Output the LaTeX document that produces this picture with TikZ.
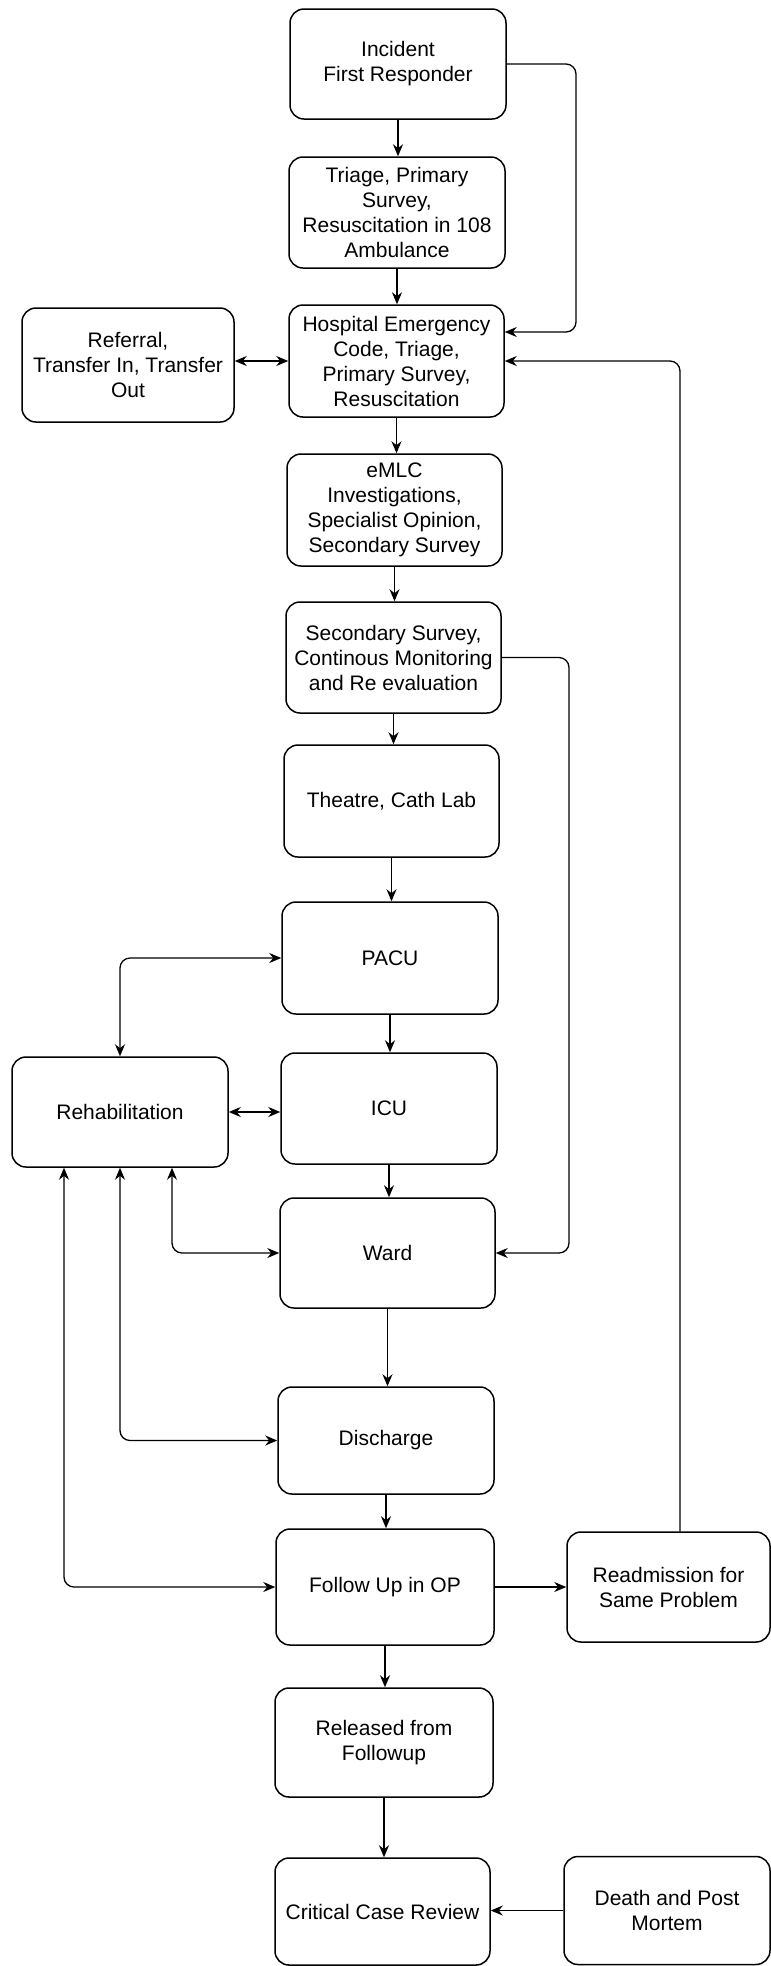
\documentclass[tikz,border=0pt]{standalone}
\usepackage{fontspec}
\setmainfont{Liberation Sans}
\usetikzlibrary{arrows.meta}
\tikzset{
  box/.style={draw, line width=1.5pt, rounded corners=14pt, align=center,
    inner sep=0pt, font=\fontsize{21pt}{25pt}\selectfont},
  sz/.style 2 args={minimum width=#1pt, minimum height=#2pt},
  tip/.tip={Stealth[length=12pt,width=10pt]},
  arr/.style={-tip, line width=1.3pt, rounded corners=10pt},
  darr/.style={tip-tip, line width=1.3pt, rounded corners=10pt}
}
\begin{document}
\begin{tikzpicture}[x=1pt,y=-1pt]
\useasboundingbox (0,0) rectangle (771,1966);
% nodes
\node[box, sz={216}{110}] (inc) at (398,64) {Incident\\First Responder};
\node[box, sz={216}{111}] (tri) at (397,212.5) {Triage, Primary\\Survey,\\Resuscitation in 108\\Ambulance};
\node[box, sz={215}{112}] (hosp) at (396.5,361) {Hospital Emergency\\Code, Triage,\\Primary Survey,\\Resuscitation};
\node[box, sz={212}{114}] (ref) at (128,365) {Referral,\\Transfer In, Transfer\\Out};
\node[box, sz={215}{112}] (emlc) at (394.5,510) {eMLC\\Investigations,\\Specialist Opinion,\\Secondary Survey};
\node[box, sz={215}{111}] (sec) at (393.5,657.5) {Secondary Survey,\\Continous Monitoring\\and Re evaluation};
\node[box, sz={215}{112}] (thea) at (391.5,801) {Theatre, Cath Lab};
\node[box, sz={216}{112}] (pacu) at (390,958) {PACU};
\node[box, sz={216}{111}] (icu) at (389,1108.5) {ICU};
\node[box, sz={216}{110}] (rehab) at (120,1112) {Rehabilitation};
\node[box, sz={215}{110}] (ward) at (387.5,1253) {Ward};
\node[box, sz={216}{107}] (disc) at (386,1440.5) {Discharge};
\node[box, sz={218}{116}] (fol) at (385,1587) {Follow Up in OP};
\node[box, sz={203}{110}] (readm) at (668.5,1587) {Readmission for\\Same Problem};
\node[box, sz={218}{109}] (rel) at (384,1742.5) {Released from\\Followup};
\node[box, sz={215}{107}] (crit) at (382.5,1911.5) {Critical Case Review};
\node[box, sz={206}{108}] (death) at (667,1910.5) {Death and Post\\Mortem};
% helper coordinates
\coordinate (c1) at (576,332);
\coordinate (c2) at (680,361);
\coordinate (c3) at (569,657);
\coordinate (r1) at ([xshift=-56pt]rehab.south);
\coordinate (r3) at ([xshift=52pt]rehab.south);
% main column
\draw[arr] (inc.south) -- (inc.south |- tri.north);
\draw[arr] (tri.south) -- (tri.south |- hosp.north);
\draw[arr] (hosp.south) -- (hosp.south |- emlc.north);
\draw[arr] (emlc.south) -- (emlc.south |- sec.north);
\draw[arr] (sec.south) -- (sec.south |- thea.north);
\draw[arr] (thea.south) -- (thea.south |- pacu.north);
\draw[arr] (pacu.south) -- (pacu.south |- icu.north);
\draw[arr] (icu.south) -- (icu.south |- ward.north);
\draw[arr] (ward.south) -- (ward.south |- disc.north);
\draw[arr] (disc.south) -- (disc.south |- fol.north);
\draw[arr] (fol.south) -- (fol.south |- rel.north);
\draw[arr] (rel.south) -- (rel.south |- crit.north);
% side connectors
\draw[arr] (inc.east) -| (c1) -- (c1 -| hosp.east);
\draw[arr] (readm.north -| c2) -- (c2) -- (hosp.east);
\draw[darr] (hosp.west) -- (hosp.west -| ref.east);
\draw[arr] (sec.east) -| (c3 |- ward.east) -- (ward.east);
\draw[darr] (pacu.west) -| (rehab.north);
\draw[darr] (rehab.east) -- (rehab.east -| icu.west);
\draw[darr] (r3) |- (ward.west);
\draw[darr] (rehab.south) |- (disc.west);
\draw[darr] (r1) |- (fol.west);
\draw[arr] (fol.east) -- (fol.east -| readm.west);
\draw[arr] (death.west) -- (death.west -| crit.east);
\end{tikzpicture}
\end{document}
